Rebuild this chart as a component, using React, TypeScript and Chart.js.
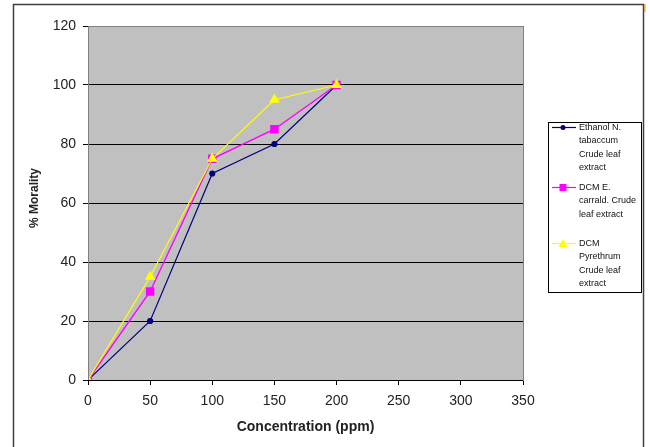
import React, { useEffect, useRef } from "react";
import { Chart, registerables } from "chart.js";

Chart.register(...registerables);

const concentrations = [0, 50, 100, 150, 200];
const ethanolTabaccum = [0, 20, 70, 80, 100];
const dcmCarrald = [0, 30, 75, 85, 100];
const dcmPyrethrum = [0, 35, 75, 95, 100];

const seriesNames = [
  ["Ethanol N.", "tabaccum", "Crude leaf", "extract"],
  ["DCM E.", "carrald. Crude", "leaf extract"],
  ["DCM", "Pyrethrum", "Crude leaf", "extract"],
];
const seriesColors = ["#000080", "#FF00FF", "#FFFF00"];
const seriesMarkers = ["circle", "rect", "triangle"];

const xAxisTitle = "Concentration (ppm)";
const yAxisTitle = "% Morality";

const fontFamily = "'Liberation Sans', Arial, sans-serif";

const toPoints = (ys: number[]) => concentrations.map((x, i) => ({ x, y: ys[i] }));

function drawMarker(ctx: CanvasRenderingContext2D, style: string, x: number, y: number, color: string) {
  ctx.save();
  ctx.fillStyle = color;
  ctx.beginPath();
  if (style === "circle") {
    ctx.arc(x, y, 2.5, 0, Math.PI * 2);
  } else if (style === "rect") {
    ctx.rect(x - 3.5, y - 3.5, 7, 7);
  } else {
    ctx.moveTo(x, y - 4.5);
    ctx.lineTo(x + 4.5, y + 3.5);
    ctx.lineTo(x - 4.5, y + 3.5);
    ctx.closePath();
  }
  ctx.fill();
  ctx.restore();
}

const chartDecor = {
  id: "chartDecor",
  beforeDraw(chart: any) {
    const { ctx, chartArea } = chart;
    ctx.save();
    ctx.fillStyle = "#FFFFFF";
    ctx.fillRect(0, 0, chart.width, chart.height);
    ctx.fillStyle = "#C0C0C0";
    ctx.fillRect(chartArea.left, chartArea.top, chartArea.right - chartArea.left, chartArea.bottom - chartArea.top);
    ctx.restore();
  },
  afterDraw(chart: any) {
    const { ctx, chartArea } = chart;
    ctx.save();
    // plot area frame
    ctx.strokeStyle = "#808080";
    ctx.lineWidth = 1;
    ctx.strokeRect(chartArea.left + 0.5, chartArea.top + 0.5, chartArea.right - chartArea.left, chartArea.bottom - chartArea.top);
    ctx.strokeStyle = "#000000";
    ctx.beginPath();
    ctx.moveTo(chartArea.left, Math.round(chartArea.bottom) + 0.5);
    ctx.lineTo(chartArea.right, Math.round(chartArea.bottom) + 0.5);
    ctx.stroke();

    // vertical axis title
    ctx.save();
    ctx.translate(35, 198);
    ctx.rotate(-Math.PI / 2);
    ctx.font = `bold 12px ${fontFamily}`;
    ctx.fillStyle = "#222222";
    ctx.textAlign = "center";
    ctx.textBaseline = "middle";
    ctx.fillText(yAxisTitle, 0, 0);
    ctx.restore();

    // outer chart frame
    ctx.strokeStyle = "#404040";
    ctx.lineWidth = 1.5;
    ctx.strokeRect(13.5, 4.5, 630, 470);
    ctx.fillStyle = "#F0A050";
    ctx.fillRect(644, 4, 1.5, 8);

    // legend
    const lx = 548.5;
    const ly = 122.5;
    ctx.strokeStyle = "#000000";
    ctx.lineWidth = 1;
    ctx.strokeRect(lx, ly, 93, 170);
    ctx.font = `9px ${fontFamily}`;
    ctx.fillStyle = "#111111";
    ctx.textBaseline = "middle";
    ctx.textAlign = "left";
    const entryTops = [127.5, 187.5, 243.5];
    const lineGap = 13.4;
    seriesNames.forEach((lines, i) => {
      const y = entryTops[i];
      ctx.strokeStyle = seriesColors[i];
      ctx.lineWidth = 1.2;
      ctx.beginPath();
      ctx.moveTo(552, y);
      ctx.lineTo(576, y);
      ctx.stroke();
      drawMarker(ctx, seriesMarkers[i], 563, y, seriesColors[i]);
      lines.forEach((t, j) => {
        ctx.fillText(t, 579, y + j * lineGap);
      });
    });
    ctx.restore();
  },
};

const tickFont = { family: fontFamily, size: 14 };

export default function App() {
  const canvasRef = useRef<HTMLCanvasElement | null>(null);

  useEffect(() => {
    if (!canvasRef.current) return;
    const chart = new Chart(canvasRef.current, {
      type: "line",
      data: {
        datasets: [
          {
            label: seriesNames[0].join(" "),
            data: toPoints(ethanolTabaccum),
            borderColor: seriesColors[0],
            backgroundColor: seriesColors[0],
            borderWidth: 1.2,
            pointStyle: "circle",
            pointRadius: 2.5,
            order: 3,
          },
          {
            label: seriesNames[1].join(" "),
            data: toPoints(dcmCarrald),
            borderColor: seriesColors[1],
            backgroundColor: seriesColors[1],
            borderWidth: 1.4,
            pointStyle: "rect",
            pointRadius: 5,
            order: 2,
          },
          {
            label: seriesNames[2].join(" "),
            data: toPoints(dcmPyrethrum),
            borderColor: seriesColors[2],
            backgroundColor: seriesColors[2],
            borderWidth: 1.2,
            pointStyle: "triangle",
            pointRadius: 5,
            order: 1,
          },
        ],
      },
      options: {
        responsive: false,
        animation: false,
        layout: { padding: { left: 0, right: 127, top: 26, bottom: 0 } },
        plugins: {
          legend: { display: false },
          tooltip: { enabled: false },
        },
        elements: { line: { tension: 0 } },
        scales: {
          x: {
            type: "linear",
            min: 0,
            max: 350,
            ticks: { stepSize: 50, color: "#222222", font: tickFont, padding: 8, maxRotation: 0 },
            grid: { drawOnChartArea: false, drawTicks: true, tickLength: 5, color: "#000000" },
            border: { display: true, color: "#000000" },
            title: {
              display: true,
              text: xAxisTitle,
              color: "#222222",
              font: { family: fontFamily, size: 14, weight: "bold" },
              padding: { top: 0, bottom: 11.6 },
            },
            afterFit(scale: any) {
              scale.height = 67;
            },
          },
          y: {
            type: "linear",
            min: 0,
            max: 120,
            ticks: { stepSize: 20, color: "#222222", font: tickFont, padding: 7 },
            grid: { drawOnChartArea: true, drawTicks: true, tickLength: 5, color: "#000000", lineWidth: 1 },
            border: { display: true, color: "#606060" },
            afterFit(scale: any) {
              scale.width = 88;
            },
          },
        },
      },
      plugins: [chartDecor],
    });
    return () => chart.destroy();
  }, []);

  return (
    <div style={{ position: "fixed", left: 0, top: 0, width: 650, height: 447, background: "#FFFFFF" }}>
      <canvas ref={canvasRef} width={650} height={447} style={{ display: "block" }} />
    </div>
  );
}
